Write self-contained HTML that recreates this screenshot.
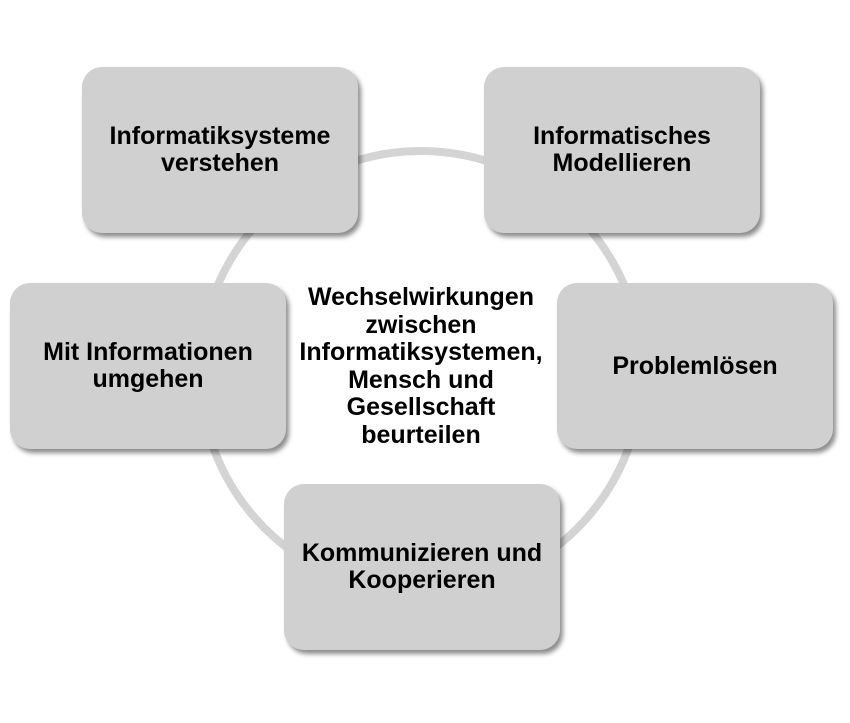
<!DOCTYPE html>
<html><head><meta charset="utf-8"><style>
body{margin:0;width:850px;height:723px;background:#fff;position:relative;overflow:hidden;font-family:"Liberation Sans",Arial,sans-serif;font-weight:bold;}
.b{position:absolute;width:276px;height:166px;background:#d0d0d0;border-radius:20px;box-shadow:3px 4px 5px rgba(0,0,0,0.45);display:flex;align-items:center;justify-content:center;text-align:center;font-size:25px;line-height:27px;color:#000;}
.c{position:absolute;left:266px;top:284px;width:310px;text-align:center;font-size:25px;line-height:27.6px;}
</style></head><body>
<svg width="850" height="723" style="position:absolute;left:0;top:0"><circle cx="421" cy="372" r="221" fill="none" stroke="#d4d4d4" stroke-width="8"/></svg>
<div class="b" style="left:82px;top:67px">Informatiksysteme<br>verstehen</div>
<div class="b" style="left:484px;top:67px">Informatisches<br>Modellieren</div>
<div class="b" style="left:10px;top:283px">Mit Informationen<br>umgehen</div>
<div class="b" style="left:557px;top:283px">Problemlösen</div>
<div class="b" style="left:284px;top:484px">Kommunizieren und<br>Kooperieren</div>
<div class="c">Wechselwirkungen<br>zwischen<br>Informatiksystemen,<br>Mensch und<br>Gesellschaft<br>beurteilen</div>
</body></html>
